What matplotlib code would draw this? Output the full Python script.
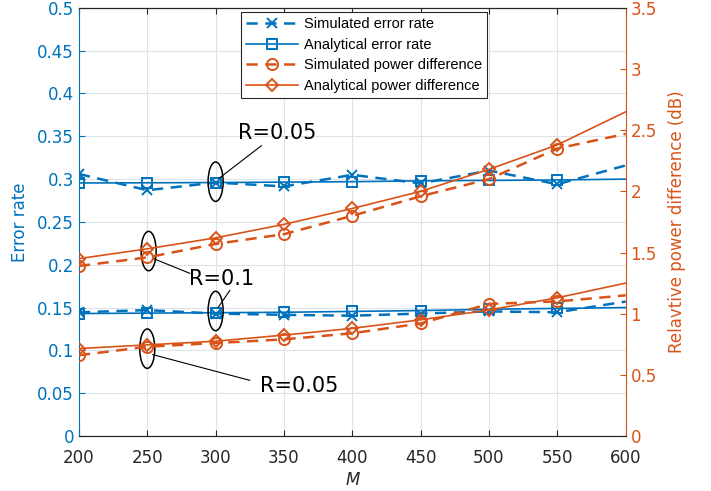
import matplotlib
matplotlib.use('Agg')
import matplotlib.pyplot as plt
from matplotlib.patches import Ellipse
from matplotlib.lines import Line2D

# data
M = [200, 250, 300, 350, 400, 450, 500, 550, 600]
err_sim_r005 = [0.306, 0.287, 0.296, 0.2915, 0.305, 0.295, 0.310, 0.294, 0.316]
err_ana_r005 = [0.2955, 0.2957, 0.296, 0.2965, 0.297, 0.298, 0.2985, 0.299, 0.300]
err_sim_r01 = [0.1445, 0.147, 0.143, 0.1415, 0.1405, 0.143, 0.1455, 0.1445, 0.157]
err_ana_r01 = [0.143, 0.1435, 0.144, 0.1445, 0.1455, 0.1465, 0.148, 0.149, 0.150]
pd_sim_r01 = [1.39, 1.46, 1.57, 1.65, 1.80, 1.96, 2.10, 2.35, 2.47]
pd_ana_r01 = [1.45, 1.53, 1.62, 1.73, 1.86, 2.00, 2.18, 2.38, 2.65]
pd_sim_r005 = [0.66, 0.73, 0.76, 0.79, 0.84, 0.92, 1.08, 1.10, 1.15]
pd_ana_r005 = [0.715, 0.745, 0.775, 0.825, 0.88, 0.95, 1.03, 1.13, 1.25]

blue = '#0072BD'
orange = '#D95319'
dash = (0, (4.5, 3))

fig = plt.figure(figsize=(7.11, 4.91), dpi=100)
ax = fig.add_axes([0.111, 0.112, 0.769, 0.872])
ax2 = ax.twinx()

# markers only up to 550, the lines run on to 600
mk = dict(markerfacecolor='none', markeredgewidth=1.4, markevery=slice(0, 8))
for ys in (err_sim_r005, err_sim_r01):
    ax.plot(M, ys, color=blue, lw=1.8, ls=dash, marker='x', ms=6.5, **mk)
for ys in (err_ana_r005, err_ana_r01):
    ax.plot(M, ys, color=blue, lw=1.2, marker='s', ms=6.5, **mk)
for ys in (pd_sim_r01, pd_sim_r005):
    ax2.plot(M, ys, color=orange, lw=1.8, ls=dash, marker='o', ms=8, **mk)
for ys in (pd_ana_r01, pd_ana_r005):
    ax2.plot(M, ys, color=orange, lw=1.2, marker='D', ms=6.3, **mk)

ax.set_xlim(200, 600)
ax.set_ylim(0, 0.5)
ax2.set_ylim(0, 3.5)
ax.set_xticks(M)
ax.set_yticks([i * 0.05 for i in range(11)])
ax.set_yticklabels(['0', '0.05', '0.1', '0.15', '0.2', '0.25', '0.3', '0.35', '0.4', '0.45', '0.5'])
ax2.set_yticks([i * 0.5 for i in range(8)])
ax2.set_yticklabels(['0', '0.5', '1', '1.5', '2', '2.5', '3', '3.5'])

ax.grid(True, color='#dde3ea', lw=0.8)
ax.set_axisbelow(True)

ax.tick_params(axis='x', direction='in', top=True, colors='#262626', labelsize=12, length=4, pad=9)
ax.tick_params(axis='y', direction='in', colors=blue, labelsize=12, length=4)
ax2.tick_params(axis='y', direction='in', colors=orange, labelsize=12, length=4)
ax.spines['left'].set_color(blue)
ax.spines['right'].set_visible(False)
ax2.spines['left'].set_visible(False)
ax2.spines['right'].set_color(orange)
ax2.spines['top'].set_color('#262626')
ax2.spines['bottom'].set_color('#262626')
ax.spines['top'].set_color('#262626')
ax.spines['bottom'].set_color('#262626')

ax.set_xlabel('M', style='italic', fontsize=12, color='#262626', labelpad=3)
ax.set_ylabel('Error rate', fontsize=12, color=blue, labelpad=6)
ax2.set_ylabel('Relavtive power difference (dB)', fontsize=12, color=orange, labelpad=8)

# ellipses and labels (left axis data coordinates)
for cx, cy in [(300, 0.297), (251, 0.216), (300, 0.146), (250, 0.102)]:
    ax.add_patch(Ellipse((cx, cy), 11, 0.046, fill=False, ec='black', lw=1.1, zorder=5))
for xs, ys in [((302.5, 333.5), (0.301, 0.339)),
               ((254.8, 281.1), (0.207, 0.190)),
               ((301.8, 310.4), (0.150, 0.170)),
               ((254.1, 325.0), (0.095, 0.065))]:
    ax.plot(xs, ys, color='black', lw=0.8, zorder=5)
ax.text(345, 0.354, 'R=0.05', fontsize=15, ha='center', va='center', zorder=6)
ax.text(304.5, 0.183, 'R=0.1', fontsize=15, ha='center', va='center', zorder=6)
ax.text(361.5, 0.058, 'R=0.05', fontsize=15, ha='center', va='center', zorder=6)

lk = dict(markerfacecolor='none', markeredgewidth=1.4)
handles = [
    Line2D([], [], color=blue, lw=1.8, ls=dash, marker='x', ms=6.5, **lk),
    Line2D([], [], color=blue, lw=1.2, marker='s', ms=6.5, **lk),
    Line2D([], [], color=orange, lw=1.8, ls=dash, marker='o', ms=8, **lk),
    Line2D([], [], color=orange, lw=1.2, marker='D', ms=6.3, **lk),
]
labels = ['Simulated error rate', 'Analytical error rate',
          'Simulated power difference', 'Analytical power difference']
leg = ax2.legend(handles, labels, loc='upper left', bbox_to_anchor=(0.296, 0.99),
                 prop={'family': 'Liberation Sans', 'size': 10.5}, fancybox=False,
                 edgecolor='#262626', framealpha=1, handlelength=3.6,
                 labelspacing=0.45, borderpad=0.35, handletextpad=0.4, borderaxespad=0)
leg.get_frame().set_linewidth(0.8)

fig.savefig('out.png', dpi=100)
